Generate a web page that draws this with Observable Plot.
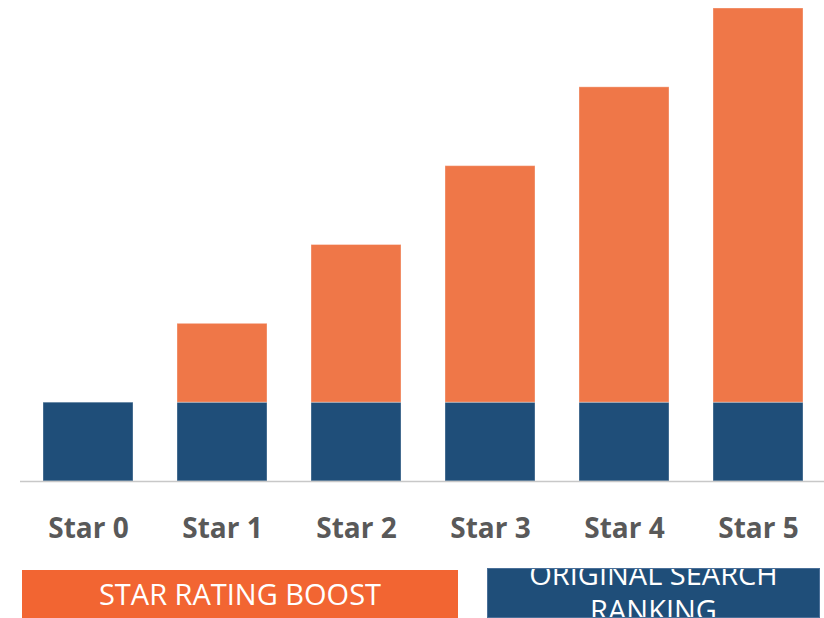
<!DOCTYPE html>
<html><head><meta charset="utf-8">
<script src="https://cdn.jsdelivr.net/npm/d3@7"></script>
<script src="https://cdn.jsdelivr.net/npm/@observablehq/plot@0.6"></script>
<style>
html,body{margin:0;padding:0;background:#fff;width:824px;height:618px;overflow:hidden;font-family:"Open Sans",sans-serif;}
#wrap{position:relative;width:824px;height:618px;}
.leg{position:absolute;color:#fff;font-family:"Open Sans",sans-serif;font-size:29px;text-align:center;overflow:hidden;box-sizing:border-box;}
</style></head>
<body><div id="wrap"></div>
<script>
const categories = ["Star 0","Star 1","Star 2","Star 3","Star 4","Star 5"];
const originalRanking = [1,1,1,1,1,1];
const starBoost = [0,1,2,3,4,5];
const seriesNames = ["ORIGINAL SEARCH RANKING","STAR RATING BOOST"];
const seriesColors = ["#1f4e79","#ef7748"];

const rows = [];
categories.forEach((c,i)=>{
  rows.push({star:c, series:seriesNames[0], value:originalRanking[i]});
  rows.push({star:c, series:seriesNames[1], value:starBoost[i]});
});

const chart = Plot.plot({
  width: 824,
  height: 560,
  marginLeft: 20,
  marginRight: 0,
  marginTop: 8,
  marginBottom: 79,
  x: {domain: categories, range: [20, 826], paddingInner: 0.33, paddingOuter: 0.16, label: null},
  y: {domain: [0, 6], axis: null},
  color: {domain: seriesNames, range: seriesColors},
  style: {fontFamily: "Open Sans, sans-serif", background: "#fff"},
  marks: [
    Plot.barY(rows.filter(d=>d.value>0), {x:"star", y:"value", fill:"series", stroke:"#ffffff", strokeOpacity:0.35, strokeWidth:1}),
    Plot.ruleY([0], {stroke:"#c8c8c8", strokeWidth:1.6}),
    Plot.axisX({tickSize:0, tickPadding:37, fontSize:28, fontWeight:"bold", fill:"#595959", label:null})
  ]
});
chart.style.position = "absolute";
chart.style.left = "0px";
chart.style.top = "0px";
const wrap = document.getElementById("wrap");
wrap.appendChild(chart);

const l1 = document.createElement("div");
l1.className = "leg";
l1.style.cssText += "left:22px;top:570px;width:436px;height:48px;background:#f26532;line-height:48px;";
l1.textContent = seriesNames[1];
wrap.appendChild(l1);

const l2 = document.createElement("div");
l2.className = "leg";
l2.style.cssText += "left:487px;top:568px;width:333px;height:50px;background:#1f4e79;border:1px solid #4a6f98;line-height:36px;padding:0 20px;";
const inner = document.createElement("div");
inner.style.marginTop = "-13px";
inner.textContent = seriesNames[0];
l2.appendChild(inner);
wrap.appendChild(l2);
</script></body></html>
